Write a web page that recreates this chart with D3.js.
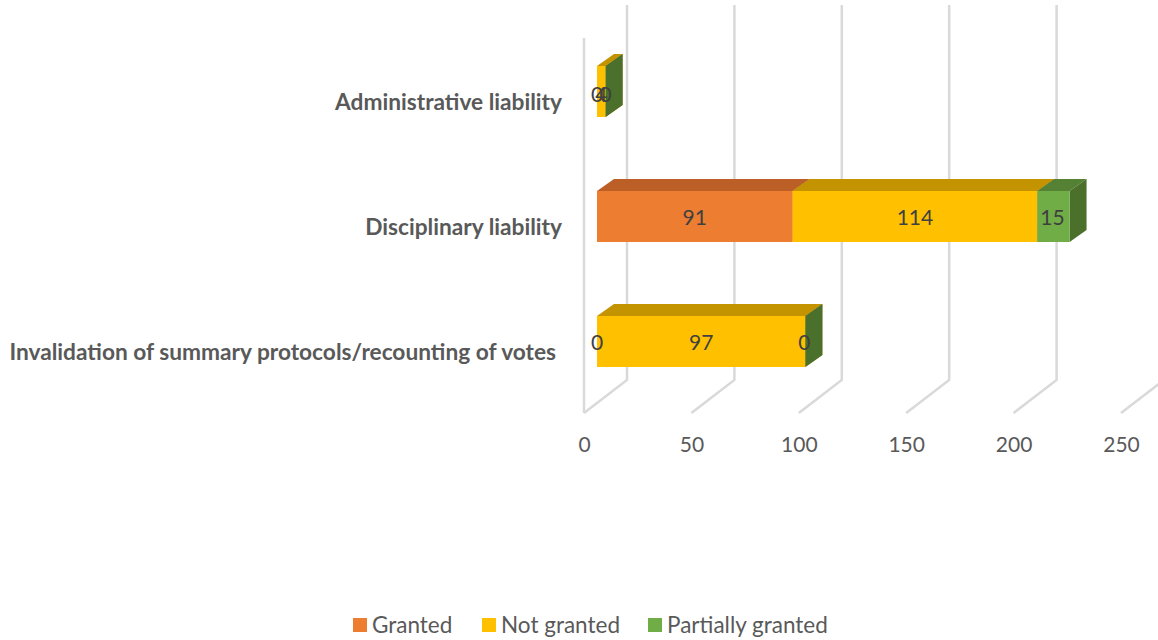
<!DOCTYPE html>
<html><head><meta charset="utf-8">
<script src="https://cdn.jsdelivr.net/npm/d3@7"></script>
<style>html,body{margin:0;padding:0;background:#fff}svg{display:block}</style>
</head><body><svg id="c" width="1158" height="640"></svg>
<script>
const categories = ["Administrative liability","Disciplinary liability","Invalidation of summary protocols/recounting of votes"];
const seriesNames = ["Granted","Not granted","Partially granted"];
const granted = [0,91,0];
const notGranted = [4,114,97];
const partiallyGranted = [0,15,0];
const tickValues = [0,50,100,150,200,250];
const frontColors = ["#ED7D31","#FFC000","#70AD47"];
const topColors = ["#BC5F27","#C49300","#558135"];
const sideColors = ["#A9551F","#A67C00","#4A702B"];

const svg = d3.select("#c");
const font = "Lato, Carlito, sans-serif";
const text = "#595959";
const x = d3.scaleLinear().domain([0,250]).range([584,1121]);
const y = d3.scaleBand().domain(categories).range([29,404]).paddingInner(0.592).paddingOuter(0.296);
const wallDx = 43, wallDy = -33, floorY = 413, wallTop = 38;
const barInset = 13, barDx = 17, barDy = -12;

// gridlines
const grid = svg.append("g").attr("fill","none").attr("stroke","#D9D9D9").attr("stroke-width",2.5);
tickValues.forEach((t,i)=>{
  const px = x(t);
  const pts = [[px,floorY],[px+wallDx,floorY+wallDy]];
  if (t<250) pts.push([px+wallDx,wallTop+wallDy]);
  grid.append("path").attr("d",d3.line()(pts));
});
grid.append("path").attr("d",d3.line()([[x(0),floorY],[x(0),wallTop]]));

// bars
const series = [granted,notGranted,partiallyGranted];
const bars = svg.append("g");
const labels = [];
categories.forEach((c,ci)=>{
  let acc = 0;
  series.forEach((vals,si)=>{
    const v = vals[ci];
    const x0 = x(acc)+barInset, x1 = x(acc+v)+barInset;
    const yT = y(c), yB = yT+y.bandwidth();
    if (v>0 || si===2) {
      const poly = (p,f)=>bars.append("path").attr("d",d3.line()(p)+"Z").attr("fill",f);
      if (v>0) poly([[x0,yT],[x1,yT],[x1+barDx,yT+barDy],[x0+barDx,yT+barDy]],topColors[si]);
      poly([[x1,yT],[x1+barDx,yT+barDy],[x1+barDx,yB+barDy],[x1,yB]],sideColors[si]);
      if (v>0) poly([[x0,yT],[x1,yT],[x1,yB],[x0,yB]],frontColors[si]);
    }
    labels.push({v,ci,si,cx:(x0+x1)/2,cy:(yT+yB)/2});
    acc += v;
  });
});
svg.append("g").selectAll("text").data(labels).join("text")
  .attr("x",d=>d.cx-(d.v===15||(d.ci===2&&d.si===2)?1:0)).attr("y",d=>d.cy+(d.ci===0?3:1)).attr("dy","0.35em").attr("text-anchor","middle")
  .attr("font-family",font).attr("font-size",21).attr("fill","#404040").text(d=>d.v);

// value axis labels
const ax = svg.append("g").attr("transform","translate(0,437)")
  .call(d3.axisBottom(x).tickValues(tickValues).tickSize(0).tickPadding(0));
ax.select(".domain").remove();
ax.selectAll("text").attr("font-family",font).attr("font-size",21).attr("fill",text);

// category labels
svg.append("g").selectAll("text").data(categories).join("text")
  .attr("x",(d,i)=>i===2?556:562).attr("y",d=>y(d)+y.bandwidth()/2+11)
  .attr("dy","0.35em").attr("text-anchor","end")
  .attr("font-family",font).attr("font-weight","bold").attr("font-size",22.7).attr("fill",text).text(d=>d);

// legend
const lx = [353,482,648];
const lg = svg.append("g").selectAll("g").data(seriesNames).join("g")
  .attr("transform",(d,i)=>`translate(${lx[i]},618)`);
lg.append("rect").attr("width",14).attr("height",14).attr("fill",(d,i)=>frontColors[i]);
lg.append("text").attr("x",19).attr("y",7).attr("dy","0.35em")
  .attr("font-family",font).attr("font-size",22.5).attr("fill",text).text(d=>d);
</script></body></html>
